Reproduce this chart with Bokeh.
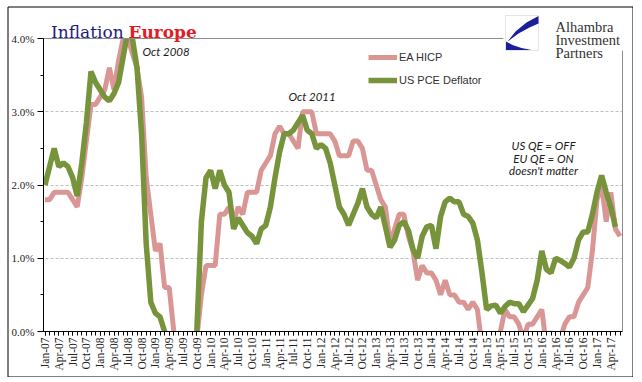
import math
from bokeh.plotting import figure
from bokeh.models import (Range1d, FixedTicker, SingleIntervalTicker, Label, Legend,
                          LegendItem, PrintfTickFormatter, PolyAnnotation)
from bokeh.embed import file_html
from bokeh.resources import INLINE

# ---------------- data (monthly, Jan-07 onward, % y/y) ----------------
hicp_2007 = [1.8, 1.8, 1.9, 1.9, 1.9, 1.9, 1.8, 1.7, 2.1, 2.6, 3.1, 3.1]
hicp_2008 = [3.2, 3.3, 3.6, 3.3, 3.7, 4.0, 4.0, 3.8, 3.6, 3.2, 2.1, 1.6]
hicp_2009 = [1.1, 1.2, 0.6, 0.6, 0.0, -0.1, -0.6, -0.2, -0.3, -0.1, 0.5, 0.9]
hicp_2010 = [0.9, 0.9, 1.6, 1.6, 1.7, 1.5, 1.7, 1.6, 1.9, 1.9, 1.9, 2.2]
hicp_2011 = [2.3, 2.4, 2.7, 2.8, 2.7, 2.7, 2.6, 2.5, 3.0, 3.0, 3.0, 2.7]
hicp_2012 = [2.7, 2.7, 2.7, 2.6, 2.4, 2.4, 2.4, 2.6, 2.6, 2.5, 2.2, 2.2]
hicp_2013 = [2.0, 1.8, 1.7, 1.2, 1.4, 1.6, 1.6, 1.3, 1.1, 0.7, 0.9, 0.8]
hicp_2014 = [0.8, 0.7, 0.5, 0.7, 0.5, 0.5, 0.4, 0.4, 0.3, 0.4, 0.3, -0.2]
hicp_2015 = [-0.6, -0.3, -0.1, 0.0, 0.3, 0.2, 0.2, 0.1, -0.1, 0.1, 0.1, 0.2]
hicp_2016 = [0.3, -0.2, 0.0, -0.2, -0.1, 0.1, 0.2, 0.2, 0.4, 0.5, 0.6, 1.1]
hicp_2017 = [1.8, 2.0, 1.5, 1.9, 1.4, 1.3]

pce_2007 = [2.0, 2.25, 2.5, 2.25, 2.3, 2.25, 2.1, 1.85, 2.3, 2.85, 3.55, 3.4]
pce_2008 = [3.3, 3.2, 3.15, 3.25, 3.4, 3.75, 4.1, 4.0, 3.6, 2.7, 1.2, 0.4]
pce_2009 = [0.25, 0.2, 0.0, -0.3, -0.4, -0.6, -0.9, -0.6, -0.4, 0.0, 1.5, 2.1]
pce_2010 = [2.2, 1.95, 2.2, 2.0, 1.9, 1.4, 1.55, 1.45, 1.35, 1.3, 1.2, 1.4]
pce_2011 = [1.45, 1.7, 2.1, 2.45, 2.7, 2.7, 2.75, 2.85, 2.95, 2.75, 2.7, 2.5]
pce_2012 = [2.55, 2.5, 2.3, 2.0, 1.7, 1.6, 1.45, 1.6, 1.75, 1.95, 1.7, 1.6]
pce_2013 = [1.55, 1.7, 1.43, 1.15, 1.25, 1.45, 1.5, 1.38, 1.12, 1.0, 1.3, 1.43]
pce_2014 = [1.45, 1.13, 1.57, 1.77, 1.82, 1.77, 1.77, 1.6, 1.57, 1.48, 1.25, 0.8]
pce_2015 = [0.3, 0.35, 0.36, 0.25, 0.34, 0.4, 0.38, 0.38, 0.27, 0.36, 0.45, 0.7]
pce_2016 = [1.1, 0.85, 0.8, 1.0, 0.97, 0.93, 0.88, 1.0, 1.25, 1.36, 1.36, 1.6]
pce_2017 = [1.9, 2.13, 1.9, 1.7, 1.43]

hicp = (hicp_2007 + hicp_2008 + hicp_2009 + hicp_2010 + hicp_2011 + hicp_2012 +
        hicp_2013 + hicp_2014 + hicp_2015 + hicp_2016 + hicp_2017)
pce = (pce_2007 + pce_2008 + pce_2009 + pce_2010 + pce_2011 + pce_2012 +
       pce_2013 + pce_2014 + pce_2015 + pce_2016 + pce_2017)

quarter_names = ["Jan", "Apr", "Jul", "Oct"]
years = list(range(7, 18))
tick_labels = [f"{m}-{y:02d}" for y in years for m in quarter_names][:42]

series_names = ["EA HICP", "US PCE Deflator"]
series_colors = ["#D99694", "#77933C"]

# ---------------- layout geometry (page pixels) ----------------
W, H = 633, 377
X0_PX, PX_PER_MONTH = 44.5, 4.6     # Jan-07 position, month spacing
Y0_PX, PX_PER_PCT = 331.0, 73.25    # 0% position, pixels per 1%
FRAME_L, FRAME_R, FRAME_T = 43, 622, 38
Y_LO, Y_HI = 0.0, 4.0

def sx(px):
    return (px - X0_PX) / PX_PER_MONTH
def sy(py):
    return (Y0_PX - py) / PX_PER_PCT

x_start, x_end = sx(0), sx(W)
y_start, y_end = sy(H), sy(0)

p = figure(width=W, height=H, title=None,
           x_range=Range1d(x_start, x_end), y_range=Range1d(y_start, y_end),
           output_backend="svg", toolbar_location=None,
           min_border=0, min_border_left=0, min_border_right=0,
           min_border_top=0, min_border_bottom=0)
p.background_fill_color = "white"
p.border_fill_color = "white"
p.outline_line_color = None

# data lines
r_h = p.line(list(range(len(hicp))), hicp, line_color=series_colors[0], line_width=5)
r_p = p.line(list(range(len(pce))), pce, line_color=series_colors[1], line_width=5.5)

# white masks: clip the lines to the plotting area (0%..4%)
xl, xr = sx(FRAME_L), sx(FRAME_R)
p.quad(left=[x_start, x_start, x_start, xr], right=[x_end, x_end, xl, x_end],
       bottom=[y_start, Y_HI, y_start, y_start], top=[Y_LO, y_end, y_end, y_end],
       fill_color="white", line_color=None)

# plot-area frame (top and right, gray)
p.segment(x0=[xl, xr], y0=[Y_HI, sy(50)], x1=[sx(503), xr], y1=[Y_HI, Y_LO],
          line_color="#8C8C8C", line_width=1)

# outer black border
bx = [sx(7.5), sx(632.5), sx(632.5), sx(7.5), sx(7.5)]
by = [sy(6.5), sy(6.5), sy(376.5), sy(376.5), sy(6.5)]
p.line(bx, by, line_color="black", line_width=1)

# grid
p.xgrid.visible = False
p.ygrid.grid_line_color = "#BFBFBF"
p.ygrid.grid_line_dash = "3 2"
p.ygrid.grid_line_width = 1

# y axis
yax = p.yaxis[0]
yax.fixed_location = xl
yax.bounds = (Y_LO, Y_HI)
yax.ticker = SingleIntervalTicker(interval=1, num_minor_ticks=2)
yax.formatter = PrintfTickFormatter(format="%.1f%%")
yax.axis_line_color = "black"
yax.major_tick_line_color = "black"
yax.minor_tick_line_color = "black"
yax.major_tick_out = 6
yax.major_tick_in = 0
yax.minor_tick_out = 3
yax.minor_tick_in = 0
yax.major_label_standoff = 3
yax.major_label_text_font = "Liberation Serif"
yax.major_label_text_font_size = "11px"
yax.major_label_text_color = "#222222"

# x axis
xax = p.xaxis[0]
xax.fixed_location = Y_LO
xax.bounds = (xl, xr)
major = list(range(0, 3 * len(tick_labels), 3))
xax.ticker = FixedTicker(ticks=major, minor_ticks=list(range(0, len(hicp))))
xax.major_label_overrides = {t: lab for t, lab in zip(major, tick_labels)}
xax.major_label_orientation = math.pi / 2
xax.axis_line_color = "black"
xax.major_tick_line_color = "black"
xax.minor_tick_line_color = "black"
xax.major_tick_out = 4
xax.major_tick_in = 0
xax.minor_tick_out = 4
xax.minor_tick_in = 0
xax.major_label_standoff = 2
xax.major_label_text_font = "Liberation Serif"
xax.major_label_text_font_size = "11.5px"
xax.major_label_text_color = "#222222"

# legend
legend = Legend(items=[LegendItem(label=series_names[0], renderers=[r_h]),
                       LegendItem(label=series_names[1], renderers=[r_p])],
                location=(368, H - 90), orientation="vertical",
                border_line_color=None, background_fill_alpha=0,
                padding=0, margin=0, spacing=3,
                glyph_width=29, glyph_height=20, label_height=20,
                label_standoff=2,
                label_text_font="Liberation Sans", label_text_font_size="11px",
                label_text_color="#333333")
p.add_layout(legend)

# title
p.add_layout(Label(x=sx(50.5), y=sy(31), text="Inflation", text_font="DejaVu Serif",
                   text_font_size="17px", text_color="#1C1C7C", text_baseline="alphabetic"))
p.add_layout(Label(x=sx(128), y=sy(31), text="Europe", text_font="DejaVu Serif",
                   text_font_size="17px", text_font_style="bold", text_color="#E31B23",
                   text_baseline="alphabetic"))

# annotations
ann_font = "Lato"
p.add_layout(Label(x=sx(142), y=sy(51), text="Oct 2008", text_font=ann_font,
                   text_font_style="italic", text_font_size="11.5px", text_color="#1a1a1a",
                   text_baseline="middle"))
p.add_layout(Label(x=sx(288), y=sy(96), text="Oct 2011", text_font=ann_font,
                   text_font_style="italic", text_font_size="11.5px", text_color="#1a1a1a",
                   text_baseline="middle"))
for txt, py in [("US QE = OFF", 145), ("EU QE = ON", 157.5), ("doesn't matter", 170)]:
    p.add_layout(Label(x=sx(543), y=sy(py), text=txt, text_font=ann_font,
                       text_font_style="italic", text_font_size="11.5px", text_color="#1a1a1a",
                       text_align="center", text_baseline="middle"))

# logo: white background, icon and text
def poly(pts, **kw):
    p.add_layout(PolyAnnotation(xs=[sx(a) for a, b in pts], ys=[sy(b) for a, b in pts], **kw))

poly([(503, 8), (631, 8), (631, 50), (503, 50)], fill_color="white", fill_alpha=1,
     line_color=None)
poly([(505, 15), (538, 15), (538, 50), (505, 50)], fill_color="white", fill_alpha=1,
     line_color="#A8A8A8", line_width=1)
poly([(538, 15.5), (526, 22), (515, 31), (507, 41), (518, 33), (529, 27), (538, 23)],
     fill_color="#1B1F9A", fill_alpha=1, line_color=None)
poly([(505.5, 41), (505.5, 49.5), (531, 49.5), (521, 47.5), (512, 44.5)],
     fill_color="#1B1F9A", fill_alpha=1, line_color=None)
for txt, base in [("Alhambra", 26.7), ("Investment", 39.5), ("Partners", 52.5)]:
    p.add_layout(Label(x=sx(555), y=sy(base), text=txt, text_font="Liberation Serif",
                       text_font_size="14.5px", text_color="#333333",
                       text_baseline="alphabetic"))

open("out.html", "w").write(file_html(p, INLINE))
